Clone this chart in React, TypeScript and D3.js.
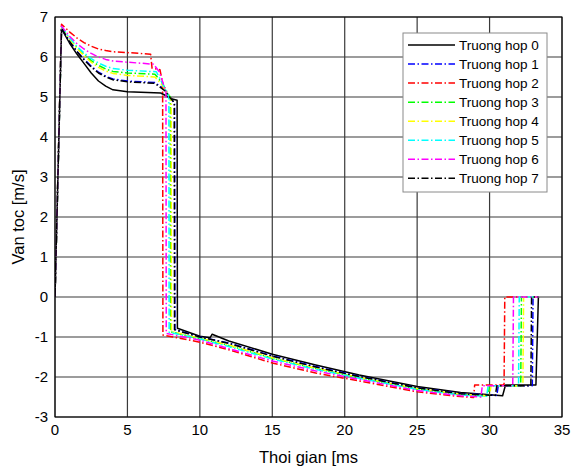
import React from "react";
import * as d3 from "d3";

type Pt = [number, number];

// Time [ms] and velocity [m/s] samples for each case
const case0: Pt[] = [
  [0, 0], [0.45, 6.7], [1, 6.35], [1.5, 6.08], [2, 5.84], [2.5, 5.6], [3, 5.4], [3.5, 5.27], [4, 5.18], [5, 5.13],
  [7.3, 5.1], [8.1, 4.95], [8.43, 4.92], [8.45, -0.78], [10, -0.98], [10.7, -1.02], [10.85, -0.93], [12, -1.1],
  [15, -1.43], [18, -1.7], [21, -1.95], [25, -2.24], [28, -2.39], [30.9, -2.47], [31.1, -2.2], [33.2, -2.2], [33.37, 0],
];
const case1: Pt[] = [
  [0, 0], [0.45, 6.72], [1, 6.4], [1.5, 6.15], [2, 5.95], [2.5, 5.77], [3, 5.62], [3.5, 5.52], [4, 5.45], [5, 5.4],
  [6.9, 5.36], [7.6, 5.18], [8.0, 4.95], [8.26, 4.85], [8.28, -0.81], [10, -1.0], [12, -1.15], [15, -1.47],
  [18, -1.74], [21, -1.98], [25, -2.27], [28, -2.41], [30.5, -2.46], [30.6, -2.22], [32.95, -2.22], [33.0, 0], [33.37, 0],
];
const case2: Pt[] = [
  [0, 0], [0.45, 6.82], [1, 6.63], [1.5, 6.48], [2, 6.36], [2.5, 6.27], [3, 6.2], [3.5, 6.16], [4, 6.13], [5, 6.11],
  [6.6, 6.07], [6.7, 5.72], [7.25, 5.68], [7.4, 5.4], [7.43, 5.35], [7.45, -0.95], [10, -1.13], [12, -1.32],
  [15, -1.65], [18, -1.9], [21, -2.1], [25, -2.37], [28, -2.49], [28.9, -2.51], [28.97, -2.2], [31.0, -2.2], [31.05, 0], [33.37, 0],
];
const case3: Pt[] = [
  [0, 0], [0.45, 6.74], [1, 6.46], [1.5, 6.24], [2, 6.06], [2.5, 5.91], [3, 5.79], [3.5, 5.7], [4, 5.64], [5, 5.6],
  [6.9, 5.57], [7.4, 5.35], [7.85, 5.05], [7.96, 5.0], [7.98, -0.87], [10, -1.04], [12, -1.21], [15, -1.53],
  [18, -1.79], [21, -2.02], [25, -2.3], [28, -2.44], [29.9, -2.47], [30.0, -2.22], [32.15, -2.22], [32.2, 0], [33.37, 0],
];
const case4: Pt[] = [
  [0, 0], [0.45, 6.74], [1, 6.45], [1.5, 6.22], [2, 6.03], [2.5, 5.87], [3, 5.74], [3.5, 5.65], [4, 5.59], [5, 5.54],
  [6.9, 5.5], [7.4, 5.3], [7.9, 5.0], [8.02, 4.95], [8.04, -0.86], [10, -1.03], [12, -1.2], [15, -1.52],
  [18, -1.78], [21, -2.01], [25, -2.29], [28, -2.43], [30.0, -2.47], [30.1, -2.22], [32.3, -2.22], [32.35, 0], [33.37, 0],
];
const case5: Pt[] = [
  [0, 0], [0.45, 6.75], [1, 6.48], [1.5, 6.27], [2, 6.1], [2.5, 5.96], [3, 5.85], [3.5, 5.77], [4, 5.71], [5, 5.67],
  [7.0, 5.63], [7.4, 5.35], [7.8, 5.05], [7.86, 5.0], [7.88, -0.88], [10, -1.05], [12, -1.24], [15, -1.55],
  [18, -1.81], [21, -2.03], [25, -2.31], [28, -2.45], [29.8, -2.48], [29.9, -2.22], [32.0, -2.22], [32.05, 0], [33.37, 0],
];
const case6: Pt[] = [
  [0, 0], [0.45, 6.77], [1, 6.52], [1.5, 6.34], [2, 6.2], [2.5, 6.09], [3, 6.0], [3.5, 5.94], [4, 5.9], [5, 5.87],
  [6.8, 5.82], [7.2, 5.63], [7.55, 5.25], [7.66, 5.15], [7.68, -0.91], [10, -1.08], [12, -1.29], [15, -1.6],
  [18, -1.85], [21, -2.06], [25, -2.34], [28, -2.47], [29.4, -2.5], [29.5, -2.22], [31.6, -2.22], [31.65, 0], [33.37, 0],
];
const case7: Pt[] = [
  [0, 0], [0.45, 6.72], [1, 6.39], [1.5, 6.14], [2, 5.93], [2.5, 5.75], [3, 5.6], [3.5, 5.5], [4, 5.43], [5, 5.38],
  [6.9, 5.34], [7.6, 5.15], [8.0, 4.96], [8.23, 4.86], [8.25, -0.82], [10, -1.0], [12, -1.16], [15, -1.48],
  [18, -1.75], [21, -1.99], [25, -2.27], [28, -2.42], [30.4, -2.46], [30.5, -2.22], [32.85, -2.22], [32.9, 0], [33.37, 0],
];

const seriesData: Pt[][] = [case0, case1, case2, case3, case4, case5, case6, case7];
const seriesNames = [
  "Truong hop 0", "Truong hop 1", "Truong hop 2", "Truong hop 3",
  "Truong hop 4", "Truong hop 5", "Truong hop 6", "Truong hop 7",
];
const seriesColors = ["#000000", "#0000ff", "#ff0000", "#00ff00", "#ffff00", "#00ffff", "#ff00ff", "#000000"];
const seriesSolid = [true, false, false, false, false, false, false, false];

const xTicks = [0, 5, 10, 15, 20, 25, 30, 35];
const yTicks = [-3, -2, -1, 0, 1, 2, 3, 4, 5, 6, 7];

const W = 571;
const H = 466;
const left = 55;
const right = 562;
const top = 17;
const bottom = 417;
const DASHDOT = "7,2.5,1.5,2.5";
const FONT = "'Liberation Sans', Arial, Helvetica, sans-serif";

export default function App() {
  const x = d3.scaleLinear().domain([0, 35]).range([left, right]);
  const y = d3.scaleLinear().domain([-3, 7]).range([bottom, top]);
  const line = d3
    .line<Pt>()
    .x((d) => x(d[0]))
    .y((d) => y(d[1]));

  const legX = 403;
  const legY = 33;
  const legW = 144;
  const legH = 159;
  const rowH = 19.05;

  return (
    <svg
      width={W}
      height={H}
      style={{ position: "fixed", left: 0, top: 0, background: "#fff" }}
      fontFamily={FONT}
    >
      <rect x={0} y={0} width={W} height={H} fill="#fff" />
      <rect x={left} y={top} width={right - left} height={bottom - top} fill="#fff" />
      {/* grid */}
      <g stroke="#3a3a3a" strokeWidth={1.2}>
        {xTicks.map((t) => (
          <line key={"gx" + t} x1={x(t)} x2={x(t)} y1={top} y2={bottom} />
        ))}
        {yTicks.map((t) => (
          <line key={"gy" + t} x1={left} x2={right} y1={y(t)} y2={y(t)} />
        ))}
      </g>
      {/* curves */}
      <defs>
        <clipPath id="plotClip">
          <rect x={left} y={top} width={right - left} height={bottom - top} />
        </clipPath>
      </defs>
      <g clipPath="url(#plotClip)" fill="none" strokeWidth={1.5} strokeLinejoin="round">
        {seriesData.map((s, i) => (
          <path
            key={seriesNames[i]}
            d={line(s) || ""}
            stroke={seriesColors[i]}
            strokeDasharray={seriesSolid[i] ? undefined : DASHDOT}
          />
        ))}
      </g>
      {/* axes box */}
      <rect x={left} y={top} width={right - left} height={bottom - top} fill="none" stroke="#000" strokeWidth={1} />
      {/* tick labels */}
      <g fontSize={15} fill="#000">
        {xTicks.map((t) => (
          <text key={"tx" + t} x={x(t)} y={bottom + 18} textAnchor="middle">
            {t}
          </text>
        ))}
        {yTicks.map((t) => (
          <text key={"ty" + t} x={left - 7} y={y(t)} dy="0.36em" textAnchor="end">
            {t}
          </text>
        ))}
      </g>
      {/* axis titles */}
      <text x={(left + right) / 2} y={bottom + 46} fontSize={16.5} textAnchor="middle" fill="#000">
        Thoi gian [ms
      </text>
      <text
        transform={`translate(${24},${(top + bottom) / 2}) rotate(-90)`}
        fontSize={16.5}
        textAnchor="middle"
        fill="#000"
      >
        Van toc [m/s]
      </text>
      {/* legend */}
      <g>
        <rect x={legX} y={legY} width={legW} height={legH} fill="#fff" stroke="#8a8a8a" strokeWidth={1} />
        {seriesNames.map((name, i) => {
          const cy = 45 + i * rowH;
          return (
            <g key={"lg" + i}>
              <line
                x1={408}
                x2={455}
                y1={cy}
                y2={cy}
                stroke={seriesColors[i]}
                strokeWidth={1.5}
                strokeDasharray={seriesSolid[i] ? undefined : DASHDOT}
              />
              <text x={459} y={cy} dy="0.36em" fontSize={13.5} fill="#000">
                {name}
              </text>
            </g>
          );
        })}
      </g>
    </svg>
  );
}
